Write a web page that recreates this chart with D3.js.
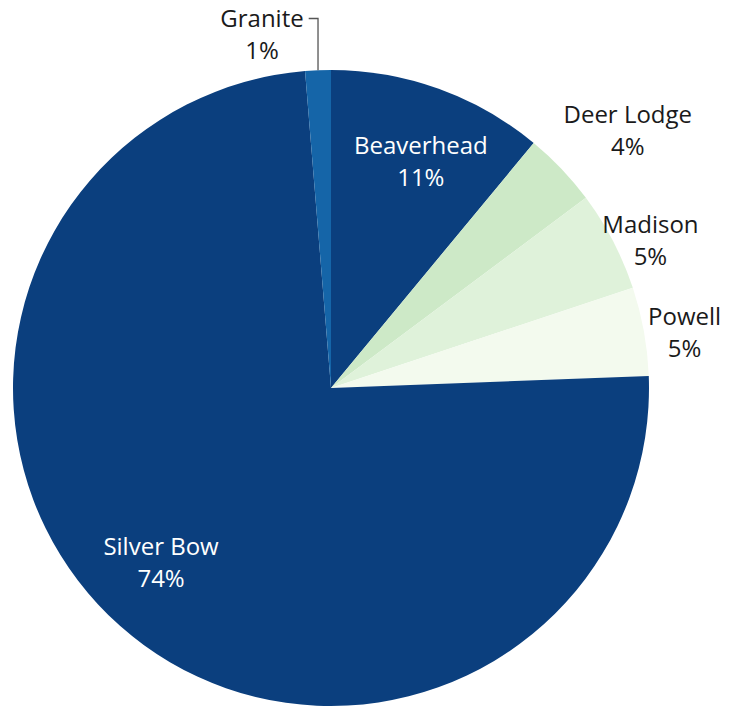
<!DOCTYPE html>
<html>
<head>
<meta charset="utf-8">
<script src="https://cdn.jsdelivr.net/npm/d3@7"></script>
<style>
  html, body { margin: 0; padding: 0; background: #fff; }
  svg { display: block; }
  text { font-family: "Open Sans", Lato, sans-serif; font-size: 24px; }
</style>
</head>
<body>
<svg id="chart" width="729" height="707"></svg>
<script>
// County shares, clockwise from 12 o'clock
const counties = ["Beaverhead", "Deer Lodge", "Madison", "Powell", "Silver Bow", "Granite"];
const shares   = [11.0, 3.8, 5.1, 4.5, 74.3, 1.3];
const colors   = ["#0b3f7e", "#cde9c7", "#dff2da", "#f3faee", "#0b3f7e", "#1565a8"];

// Label centre offsets from the slice's mid-angle: radius (px) and angular nudge (deg)
const labelRadius = [244, 393, 352, 358, 243, 361];
const labelNudge  = [1.8, 2.6, 2.7, 1.3, 2.8, 0];
const labelInside = [true, false, false, false, true, false];

const width = 729, height = 707;
const cx = 331, cy = 388, R = 318;

const svg = d3.select("#chart");
const g = svg.append("g").attr("transform", `translate(${cx},${cy})`);

const data = counties.map((c, i) => ({ name: c, value: shares[i], i }));

const pie = d3.pie().value(d => d.value).sort(null);
const arcs = pie(data);
const arc = d3.arc().innerRadius(0).outerRadius(R);

g.selectAll("path.slice")
  .data(arcs)
  .join("path")
  .attr("class", "slice")
  .attr("d", arc)
  .attr("fill", d => colors[d.data.i]);

const fmt = v => Math.round(v) + "%";

// Labels
arcs.forEach(a => {
  const i = a.data.i;
  const mid = (a.startAngle + a.endAngle) / 2 + labelNudge[i] * Math.PI / 180;
  let x = Math.sin(mid) * labelRadius[i];
  let y = -Math.cos(mid) * labelRadius[i];
  if (a.data.name === "Granite") { x = -69; y = -354; }
  const t = g.append("text")
    .attr("text-anchor", "middle")
    .attr("fill", labelInside[i] ? "#ffffff" : "#1a1a1a");
  const name = t.append("tspan").attr("x", x).attr("y", y - 7).text(a.data.name);
  t.append("tspan").attr("x", x).attr("y", y + 25).text(fmt(a.data.value));

  if (a.data.name === "Granite") {
    // Leader line from the label to the rim of the thin slice
    const m = (a.startAngle + a.endAngle) / 2;
    const ex = Math.sin(m) * R, ey = -Math.cos(m) * R;
    const nb = name.node().getBBox();
    const lx = nb.x + nb.width + 5, ly = nb.y + nb.height / 2 + 1;
    g.append("path")
      .attr("d", `M${lx},${ly}H${ex}V${ey}`)
      .attr("fill", "none")
      .attr("stroke", "#555")
      .attr("stroke-width", 1.3);
  }
});
</script>
</body>
</html>
